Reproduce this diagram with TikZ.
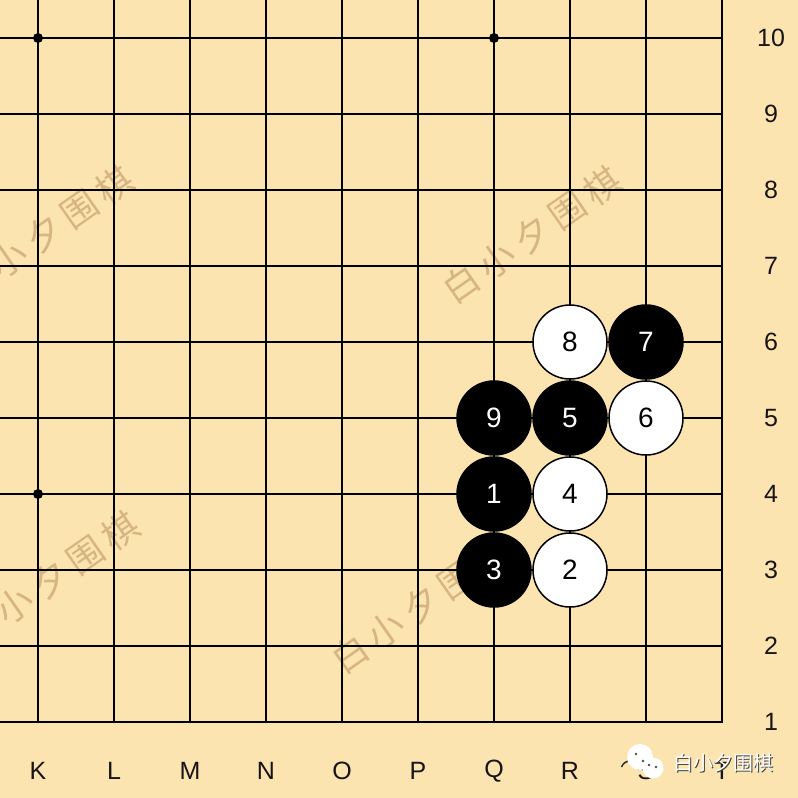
\documentclass[tikz,border=0pt]{standalone}
\usepackage{fontspec}
\setmainfont{Liberation Sans}
\newfontfamily\cjk{Noto Sans CJK SC}
\definecolor{board}{RGB}{252,228,176}
\definecolor{wm}{RGB}{170,125,75}
\definecolor{lbl}{RGB}{25,20,20}
\newcommand\wmtext{白\hspace{7pt}小\hspace{7pt}夕\hspace{7pt}围\hspace{7pt}棋}
\begin{document}
\begin{tikzpicture}[x=1pt,y=-1pt,
  gridline/.style={line width=2.3pt,black,line cap=rect},
  stonebase/.style={circle,draw=black,line width=1.5pt,minimum size=74pt,inner sep=0pt,font=\fontsize{28}{28}\selectfont},
  bstone/.style={stonebase,fill=black,text=white},
  wstone/.style={stonebase,fill=white,text=black},
  coordlabel/.style={font=\fontsize{25}{25}\selectfont,text=lbl},
  watermark/.style={font=\cjk\fontsize{36}{36}\selectfont,text=wm,opacity=0.45,rotate=35}]
\useasboundingbox (0,0) rectangle (798,798);
\fill[board] (0,0) rectangle (798,798);
% watermarks
\node[watermark] (wm1) at (44,234) {\wmtext};
\node[watermark] (wm2) at (532,235) {\wmtext};
\node[watermark] (wm3) at (50,580) {\wmtext};
\node[watermark] (wm4) at (421,605) {\wmtext};
% grid
\foreach \i in {0,...,9} {
  \draw[gridline] (38+76*\i,0) -- (38+76*\i,722);
  \draw[gridline] (0,38+76*\i) -- (722,38+76*\i);
}
% star points
\fill (38,38) circle (5pt);
\fill (494,38) circle (5pt);
\fill (38,494) circle (5pt);
% coordinates
\foreach \l [count=\i from 0] in {K,L,M,N,O,P,Q,R,S,T} {
  \node[coordlabel] (c\l) at (38+76*\i,771) {\l};
}
\foreach \n [count=\i from 0] in {10,9,8,7,6,5,4,3,2,1} {
  \node[coordlabel] (r\n) at (771,38+76*\i) {\n};
}
% stones
\node[bstone] (s1) at (494,494) {1};
\node[wstone] (s2) at (570,570) {2};
\node[bstone] (s3) at (494,570) {3};
\node[wstone] (s4) at (570,494) {4};
\node[bstone] (s5) at (570,418) {5};
\node[wstone] (s6) at (646,418) {6};
\node[bstone] (s7) at (646,342) {7};
\node[wstone] (s8) at (570,342) {8};
\node[bstone] (s9) at (494,418) {9};
% logo
\draw[line width=1.5pt,black!80] (639,770) arc (180:20:-9);
\fill[white] (640,757) circle (13pt);
\fill[white] (653,768) circle (10.5pt);
\fill[black!70] (636,754) circle (1.3pt);
\fill[black!70] (643,761) circle (1.3pt);
\fill[black!70] (649,765) circle (1.3pt);
\fill[black!70] (656,767) circle (1.3pt);
\node[font=\cjk\fontsize{20}{20}\selectfont,text=black!75] (logoshadow) at (724,764) {白小夕围棋};
\node[font=\cjk\fontsize{20}{20}\selectfont,text=white] (logotext) at (723,763) {白小夕围棋};
\end{tikzpicture}
\end{document}
